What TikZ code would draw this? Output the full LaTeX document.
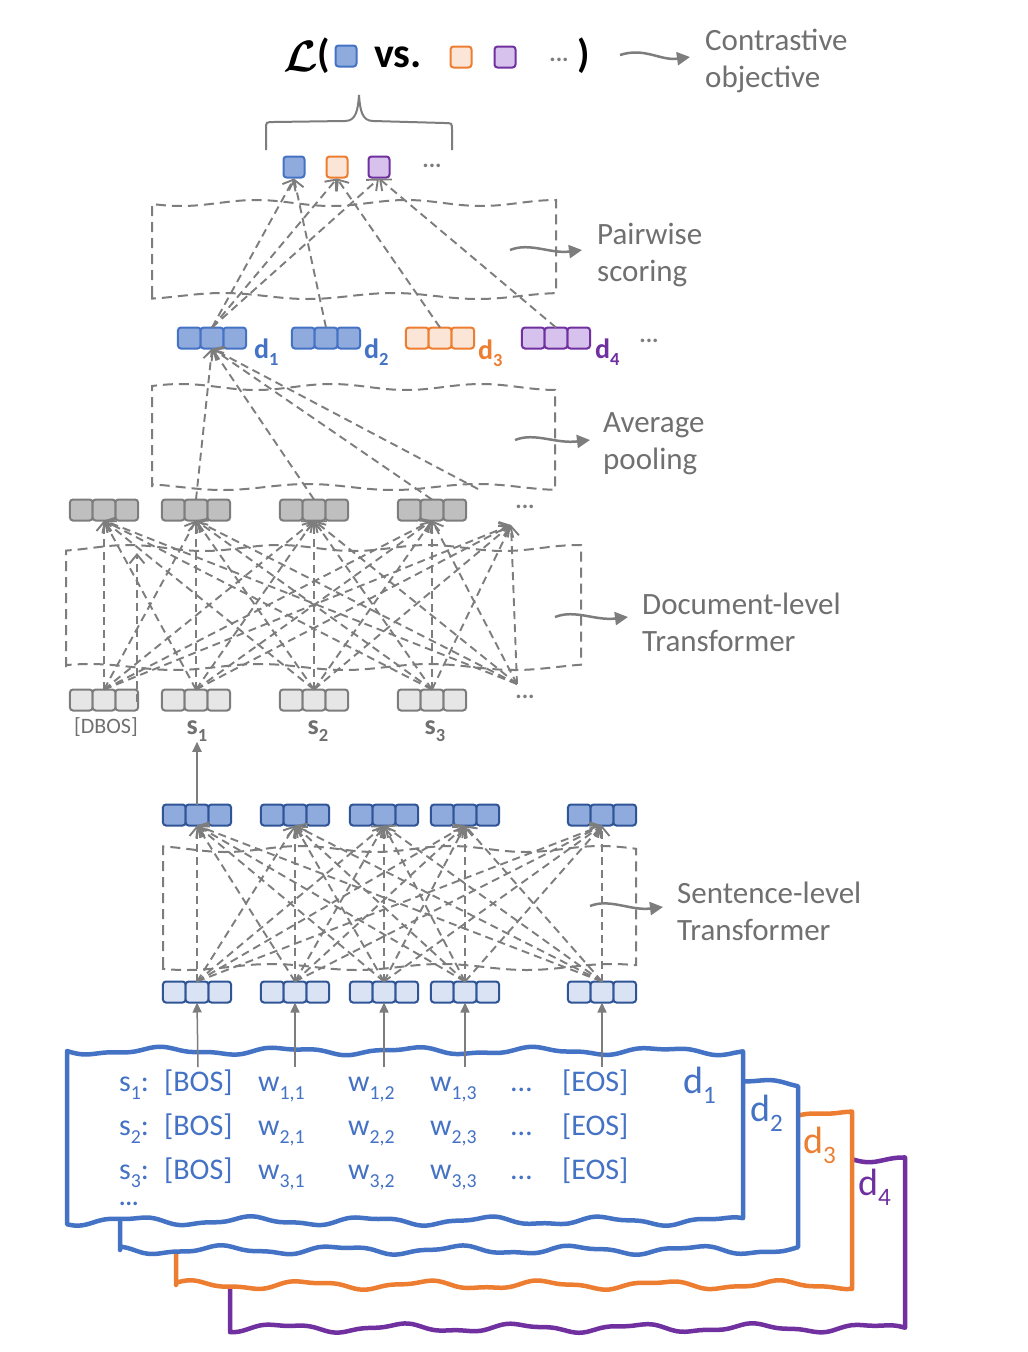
\documentclass[tikz,border=0pt]{standalone}
\usepackage{fontspec}
\setmainfont{Carlito}
\usetikzlibrary{arrows.meta}
\definecolor{cgray}{RGB}{125,125,125}
\definecolor{tgray}{RGB}{112,112,112}
\definecolor{dblue}{RGB}{47,85,151}
\definecolor{mblue}{RGB}{68,114,196}
\definecolor{fblue}{RGB}{143,170,220}
\definecolor{lblue}{RGB}{218,227,243}
\definecolor{orng}{RGB}{237,125,49}
\definecolor{lorng}{RGB}{251,229,214}
\definecolor{purp}{RGB}{112,48,160}
\definecolor{lpurp}{RGB}{214,194,236}
\definecolor{dgfill}{RGB}{191,191,191}
\definecolor{lgfill}{RGB}{230,230,230}
\newcommand\fs[2]{\fontsize{#1}{#2}\selectfont}
\newcommand\sub[1]{\raisebox{-0.27em}{\scalebox{0.66}{#1}}}
\tikzset{
 cell/.style={line width=2pt, rounded corners=3pt, minimum width=22.7pt, minimum height=21pt, inner sep=0pt, outer sep=0pt},
 grayout/.style={cell, fill=dgfill, draw=cgray},
 grayin/.style={cell, fill=lgfill, draw=cgray},
 blueout/.style={cell, fill=fblue, draw=dblue},
 bluein/.style={cell, fill=lblue, draw=dblue},
 dvecA/.style={cell, fill=fblue, draw=mblue},
 dvecC/.style={cell, fill=lorng, draw=orng},
 dvecD/.style={cell, fill=lpurp, draw=purp},
 sq/.style={line width=2pt, rounded corners=3pt, minimum size=21pt, inner sep=0pt},
 darr/.style={draw=cgray, line width=1.9pt, dash pattern=on 8pt off 5pt, -{Straight Barb[length=9pt,width=15pt]}},
 dbox/.style={draw=cgray, line width=2pt, dash pattern=on 10pt off 6pt},
 larr/.style={draw=cgray, line width=2.5pt, -{Triangle[length=13pt,width=13pt]}},
 sarr/.style={draw=cgray, line width=1.8pt, -{Triangle[length=10pt,width=9pt]}},
 lbl/.style={font=\fs{31}{37}, text=tgray, align=left, anchor=west, inner sep=0pt},
 docs/.style={line width=4.5pt, fill=white, line join=round},
 words/.style={font=\fs{30}{36}, text=mblue, anchor=base west, inner sep=0pt},
 dotsty/.style={font=\fs{24}{28}\bfseries, text=cgray, inner sep=0pt},
}
\newcommand\vecrow[4]{%
  \node[#1] (#2-l) at ({#3-22.7},#4) {};
  \node[#1] (#2-r) at ({#3+22.7},#4) {};
  \node[#1] (#2) at (#3,#4) {};
}
\newcommand\wavybox[5]{%
 \draw[dbox] (#1,#4) -- plot[domain=#1:#3,samples=40,smooth] (\x,{#2+3*sin(360*((\x-#1)/150)+#5)}) -- plot[domain=#3:#1,samples=40,smooth] (\x,{#4+3*sin(360*((\x-#1)/170)+#5+100)}) -- cycle;}
\newcommand\docsheet[6]{%
 \draw[docs, draw=#5] (#1,#4) -- plot[domain=#1:#3, samples=90, smooth] (\x,{#2+3*sin(360*((\x-#1)/125)+#6)+1.3*sin(360*((\x-#1)/53)+2*#6)}) -- plot[domain=#3:#1, samples=90, smooth] (\x,{#4+3.5*sin(360*((\x-#1)/118)+#6+70)+1.3*sin(360*((\x-#1)/49)+#6)}) -- cycle;}
\begin{document}
\begin{tikzpicture}[x=1pt,y=-1pt]
\fill[white] (0,0) rectangle (1028,1352);
\useasboundingbox (0,0) rectangle (1028,1352);

% ---------- formula ----------
\node[inner sep=0pt] (calL) at (301,56) {\scalebox{4.4}{\boldmath$\mathcal{L}$}};
\node[anchor=base west, inner sep=0pt, font=\fs{40}{44}\bfseries] (lpar) at (317,67) {(};
\node[sq, fill=fblue, draw=mblue] (fsqa) at (346,56) {};
\node[anchor=base west, inner sep=0pt, font=\fs{42}{44}\bfseries] (vs) at (374,67) {vs.};
\node[sq, fill=lorng, draw=orng] (fsqb) at (461,57) {};
\node[sq, fill=lpurp, draw=purp] (fsqc) at (505,57) {};
\node[dotsty] (fdots) at (559,60) {...};
\node[anchor=base west, inner sep=0pt, font=\fs{40}{44}\bfseries] (rpar) at (577,67) {)};
\coordinate (ca1) at (620,55); \coordinate (ca2) at (690,57);
\draw[larr] (ca1) .. controls (645,47) and (660,61) .. (ca2);
\node[lbl] (tcon) at (705,61) {Contrastive\\objective};

% brace
\draw[cgray, line width=2pt] (266,150) -- (266,129) .. controls (266,122) .. (274,122) -- (345,121) .. controls (356,121) and (358,110) .. (359,95) .. controls (360,110) and (362,121) .. (373,121) -- (444,123) .. controls (452,123) .. (452,130) -- (452,150);

% ---------- top squares ----------
\node[sq, fill=fblue, draw=mblue] (sqa) at (294,167) {};
\node[sq, fill=lorng, draw=orng] (sqb) at (337,167) {};
\node[sq, fill=lpurp, draw=purp] (sqc) at (379,167) {};
\node[dotsty] (tdots) at (432,166) {...};

% pairwise box
\wavybox{152}{203}{556}{296}{20}
\coordinate (pa1) at (510,250); \coordinate (pa2) at (582,250);
\draw[larr] (pa1) .. controls (530,242) and (550,254) .. (pa2);
\node[lbl] (tpair) at (597,255) {Pairwise\\scoring};

% ---------- document vectors ----------
\vecrow{dvecA}{d1}{212}{338}
\vecrow{dvecA}{d2}{326}{338}
\vecrow{dvecC}{d3}{440}{338}
\vecrow{dvecD}{d4}{556}{338}
\node[font=\fs{28}{30}\bfseries, text=mblue, anchor=base west, inner sep=0pt] (ld1) at (254,358) {d\sub{1}};
\node[font=\fs{28}{30}\bfseries, text=mblue, anchor=base west, inner sep=0pt] (ld2) at (364,358) {d\sub{2}};
\node[font=\fs{28}{30}\bfseries, text=orng, anchor=base west, inner sep=0pt] (ld3) at (478,359) {d\sub{3}};
\node[font=\fs{28}{30}\bfseries, text=purp, anchor=base west, inner sep=0pt] (ld4) at (595,358) {d\sub{4}};
\node[dotsty] (ddots) at (649,341) {...};

\draw[darr] (d1.north) -- (sqa.south);
\draw[darr] (d1.north) -- (sqb.south);
\draw[darr] (d1.north) -- (sqc.south);
\draw[darr] (d2.north) -- (sqa.south);
\draw[darr] (d3.north) -- (sqb.south);
\draw[darr] (d4.north) -- (sqc.south);

% average pooling box
\wavybox{152}{387}{555}{487}{200}
\coordinate (aa1) at (515,440); \coordinate (aa2) at (590,440);
\draw[larr] (aa1) .. controls (535,432) and (555,444) .. (aa2);
\node[lbl] (tavg) at (603,444) {Average\\pooling};

% ---------- document-level transformer ----------
\foreach \n/\cx in {1/104,2/196,3/314,4/432} {
  \vecrow{grayout}{go\n}{\cx}{510}
  \vecrow{grayin}{gi\n}{\cx}{700}
}
\node[dotsty] (godots) at (525,507) {...};
\node[dotsty] (gidots) at (525,697) {...};
\foreach \n in {1,...,4} {\coordinate (git\n) at (gi\n.north); \coordinate (gob\n) at (go\n.south);}
\coordinate (git5) at (517,684);
\coordinate (gob5) at (511,525);

\wavybox{66}{548}{581}{667}{120}
\coordinate (da1) at (555,617); \coordinate (da2) at (628,617);
\draw[larr] (da1) .. controls (575,609) and (595,621) .. (da2);
\node[lbl] (tdoc) at (642,622) {Document-level\\Transformer};

\foreach \a in {1,...,5} \foreach \b in {1,...,5} \draw[darr] (git\a) -- (gob\b);
\coordinate (xa) at (137,702); \coordinate (xb) at (137,553);
\draw[darr] (xa) -- (xb);

\coordinate (gpx) at (478,489);
\draw[darr] (go2.north) -- (d1.south);
\draw[darr] (go3.north) -- (d1.south);
\draw[darr] (go4.north) -- (d1.south);
\draw[darr] (gpx) -- (d1.south);

\node[font=\fs{22}{26}, text=tgray, inner sep=0pt] (ldbos) at (106,727) {[DBOS]};
\node[font=\fs{28}{30}\bfseries, text=tgray, anchor=base, inner sep=0pt] (ls1) at (197,734) {s\sub{1}};
\node[font=\fs{28}{30}\bfseries, text=tgray, anchor=base, inner sep=0pt] (ls2) at (318,734) {s\sub{2}};
\node[font=\fs{28}{30}\bfseries, text=tgray, anchor=base, inner sep=0pt] (ls3) at (435,734) {s\sub{3}};

% ---------- sentence-level transformer ----------
\foreach \n/\cx in {1/197,2/295,3/384,4/465,5/602} {
  \vecrow{blueout}{so\n}{\cx}{815}
  \vecrow{bluein}{si\n}{\cx}{992}
}
\foreach \n in {1,...,5} {\coordinate (sit\n) at (si\n.north); \coordinate (sob\n) at (so\n.south);}
\wavybox{163}{849}{636}{967}{300}
\foreach \a in {1,...,5} \foreach \b in {1,...,5} \draw[darr] (sit\a) -- (sob\b);
\coordinate (sa1) at (590,906); \coordinate (sa2) at (663,907);
\draw[larr] (sa1) .. controls (610,898) and (630,911) .. (sa2);
\node[lbl] (tsent) at (677,911) {Sentence-level\\Transformer};

\draw[sarr] (so1.north) -- (ls1.south);

% ---------- document stack ----------
\docsheet{230}{1158}{905}{1328}{purp}{40}
\docsheet{176}{1115}{852}{1285}{orng}{160}
\docsheet{120}{1083}{798}{1250}{mblue}{250}
\docsheet{67}{1051}{743}{1221}{mblue}{0}

\node[font=\fs{38}{40}, text=mblue, anchor=base west, inner sep=0pt] (sd1) at (683,1093) {d\sub{1}};
\node[font=\fs{38}{40}, text=mblue, anchor=base west, inner sep=0pt] (sd2) at (750,1121) {d\sub{2}};
\node[font=\fs{38}{40}, text=orng, anchor=base west, inner sep=0pt] (sd3) at (803,1153) {d\sub{3}};
\node[font=\fs{38}{40}, text=purp, anchor=base west, inner sep=0pt] (sd4) at (858,1195) {d\sub{4}};

\foreach \r/\y in {1/1091,2/1135,3/1179} {
  \node[words] (s\r) at (119,\y) {s\sub{\r}:};
  \node[words] (bos\r) at (164,\y) {[BOS]};
  \node[words] (w\r a) at (258,\y) {w\sub{\r,1}};
  \node[words] (w\r b) at (348,\y) {w\sub{\r,2}};
  \node[words] (w\r c) at (430,\y) {w\sub{\r,3}};
  \node[words] (el\r) at (511,\y) {…};
  \node[words] (eos\r) at (562,\y) {[EOS]};
}
\node[words, font=\fs{24}{28}\bfseries] (sdots) at (119,1205) {...};

\foreach \n/\cx in {1/198,2/295,3/384,4/465,5/602} {
  \coordinate (wa\n) at (\cx,1067);
  \draw[sarr, line width=1.5pt] (wa\n) -- (si\n.south);
}
\end{tikzpicture}
\end{document}
